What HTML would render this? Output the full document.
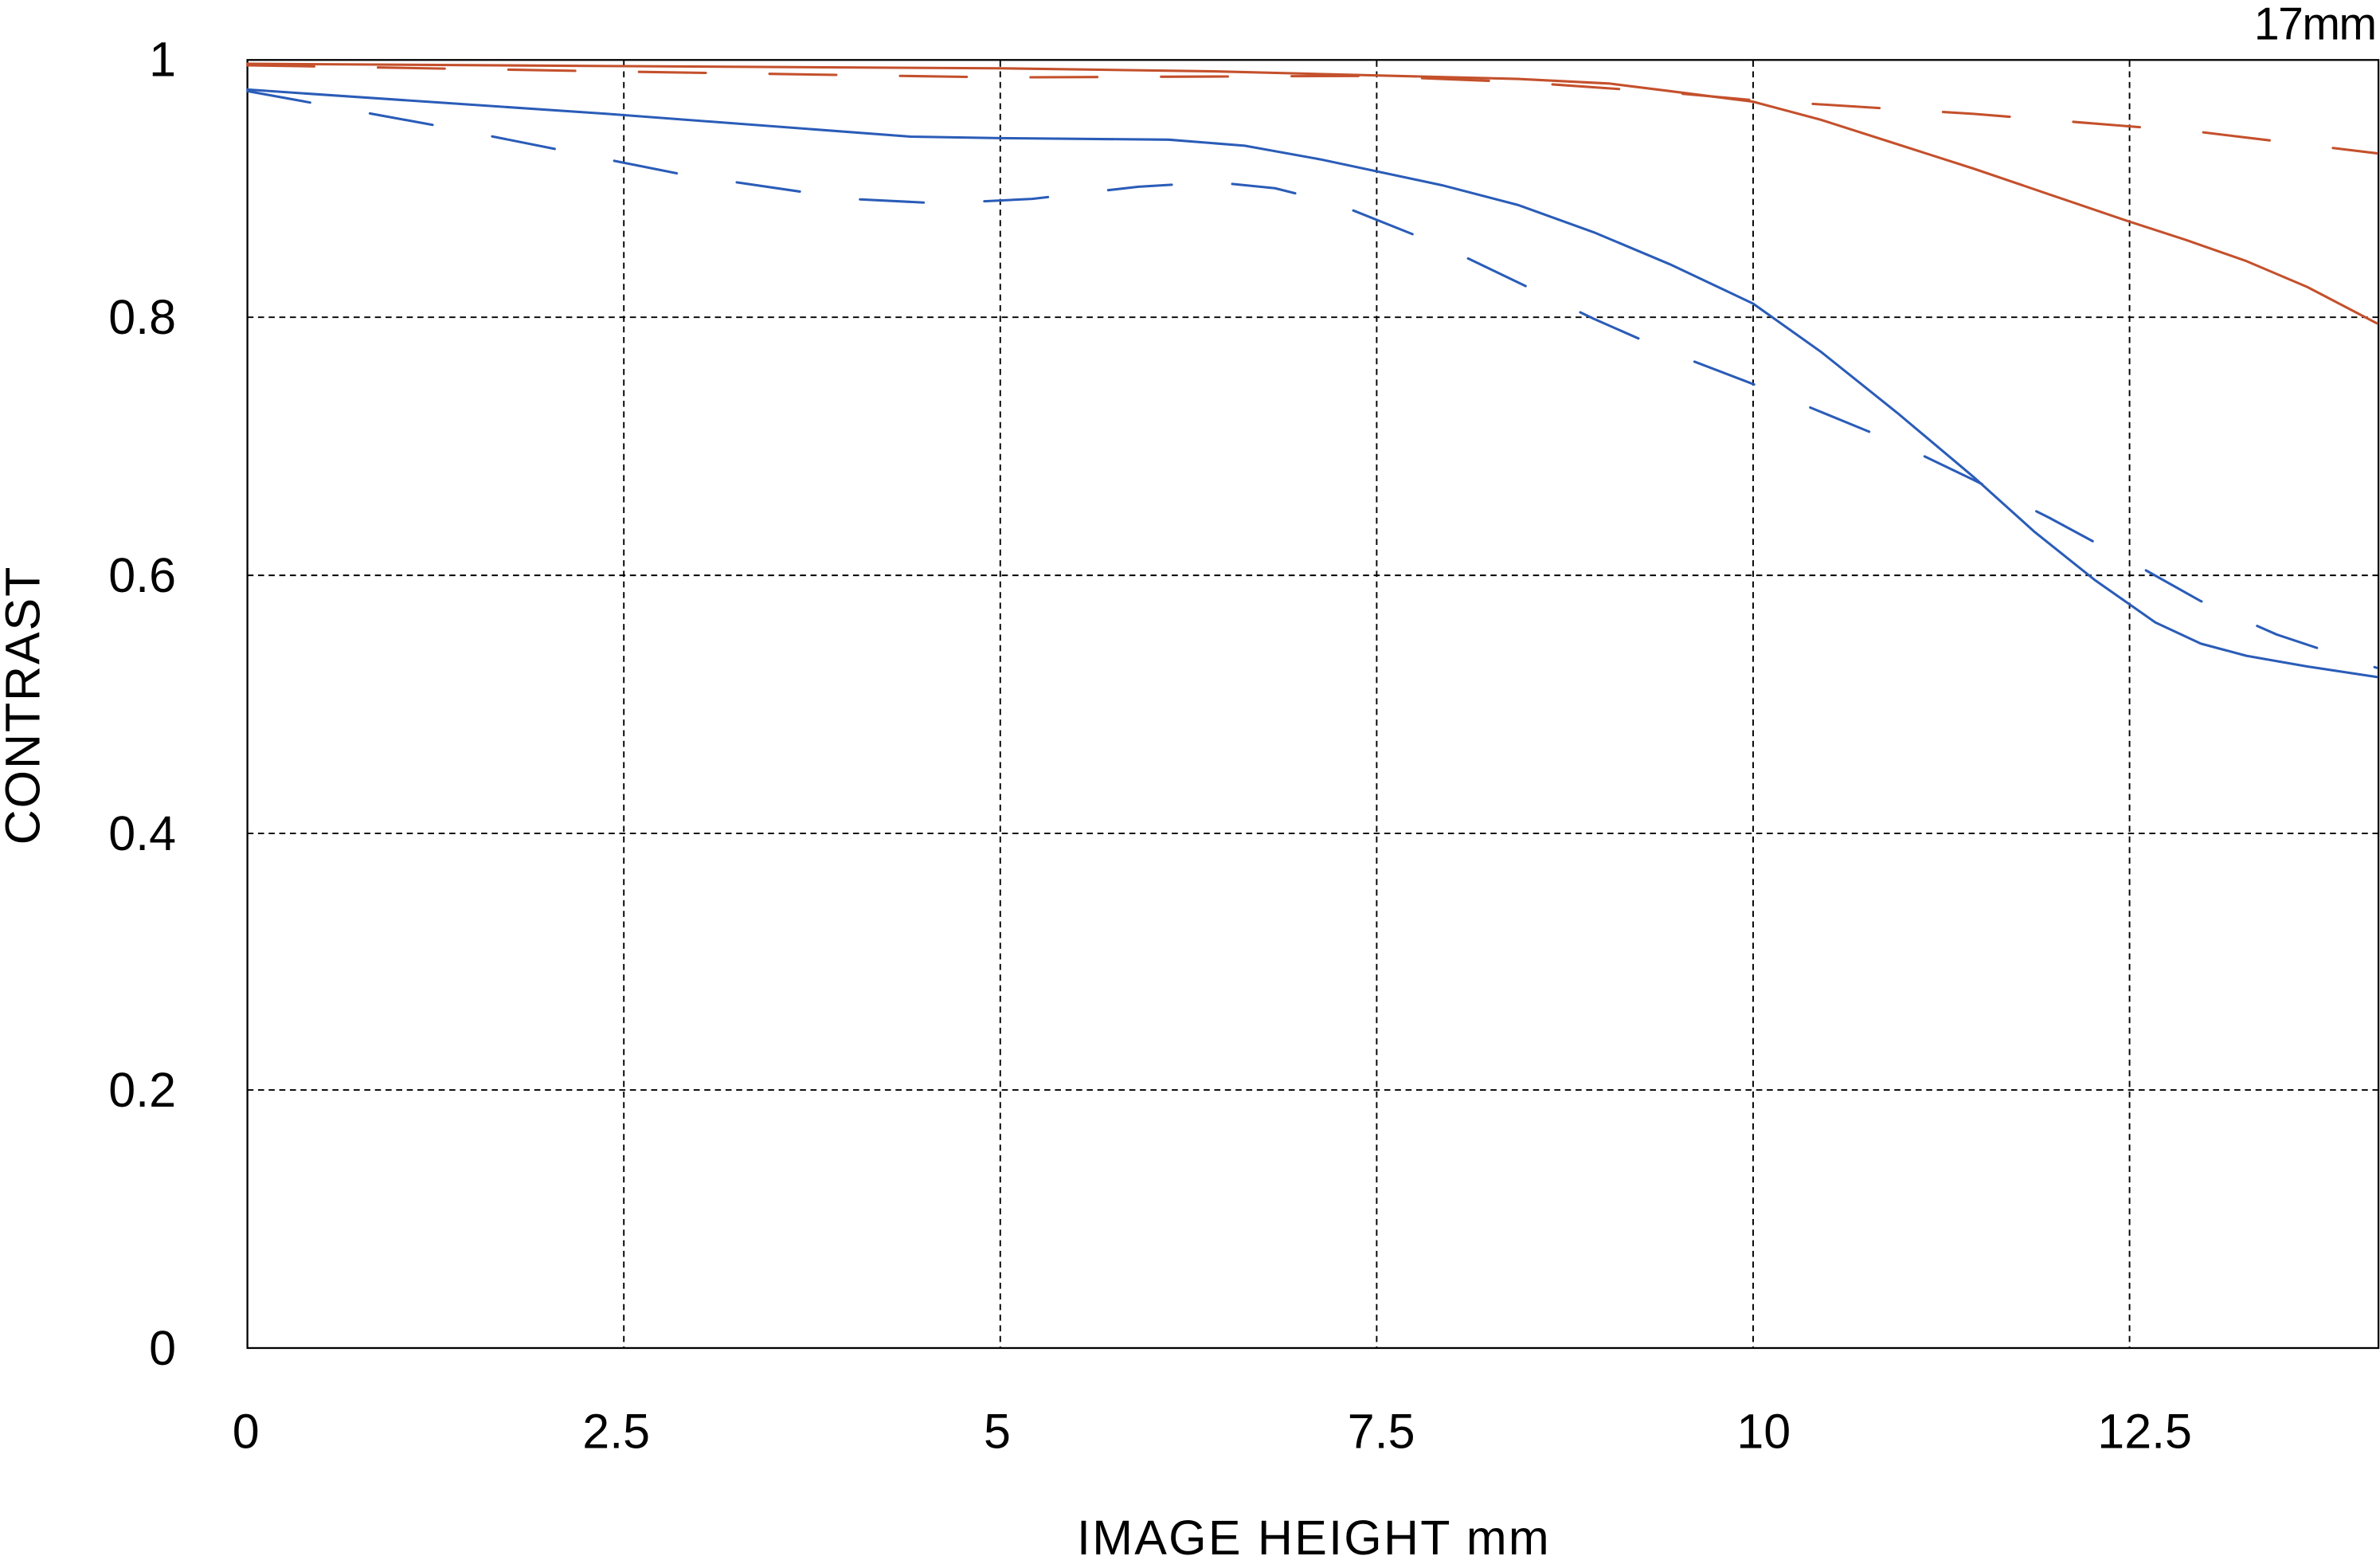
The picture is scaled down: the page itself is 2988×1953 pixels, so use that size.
<!DOCTYPE html>
<html><head><style>html,body{margin:0;padding:0;background:#fff;}svg{display:block}</style></head>
<body>
<svg width="2988" height="1953" viewBox="0 0 1568 1025" preserveAspectRatio="none" xmlns="http://www.w3.org/2000/svg" font-family="Liberation Sans, sans-serif">
<rect width="1568" height="1025" fill="#fff"/>
<g stroke="#000" stroke-width="1" stroke-dasharray="4,3" fill="none">
<line x1="411" y1="40" x2="411" y2="888"/><line x1="659" y1="40" x2="659" y2="888"/>
<line x1="907" y1="40" x2="907" y2="888"/><line x1="1155" y1="40" x2="1155" y2="888"/>
<line x1="1403" y1="40" x2="1403" y2="888"/>
<line x1="163" y1="209" x2="1567" y2="209"/><line x1="163" y1="379" x2="1567" y2="379"/>
<line x1="163" y1="549" x2="1567" y2="549"/><line x1="163" y1="718" x2="1567" y2="718"/>
</g>
<rect x="163" y="39.5" width="1404" height="848.5" fill="none" stroke="#000" stroke-width="1.2"/>
<g fill="none" stroke-width="1.6" stroke-linejoin="round" stroke-linecap="round">
<path stroke="#c4502c" d="M163,42 L400,43.5 L659,45 L800,47 L1000,52 L1060,55 L1100,60 L1155,67 L1200,79 L1250,95 L1300,111 L1350,128 L1400,145 L1440,158 L1480,172 L1520,189 L1566,213"/>
<path stroke="#c4502c" stroke-dasharray="44,42" d="M163,43 L400,47 L659,51 L900,50 L1000,54 L1100,61 L1155,66 L1300,75 L1450,87 L1566,101"/>
<path stroke="#2a5cb8" d="M163,59 L400,75 L600,90 L659,91 L770,92 L820,96 L870,105 L950,122 L1000,135 L1050,153 L1100,174 L1155,200 L1200,232 L1250,272 L1300,314 L1340,350 L1380,382 L1420,410 L1450,424 L1480,432 L1520,439 L1566,446"/>
<path stroke="#2a5cb8" stroke-dasharray="42,40" d="M163,60 L300,85 L450,115 L560,131 L620,134 L680,131 L750,123 L800,120 L840,124 L880,134 L950,162 L1050,210 L1100,232 L1155,253 L1250,292 L1300,316 L1350,341 L1400,368 L1450,396 L1500,418 L1566,440"/>
</g>
<g font-size="32" fill="#000">
<g text-anchor="end">
<text x="116" y="50">1</text><text x="116" y="220">0.8</text><text x="116" y="390">0.6</text>
<text x="116" y="560">0.4</text><text x="116" y="729">0.2</text><text x="116" y="899">0</text>
</g>
<g text-anchor="middle">
<text x="162" y="954">0</text><text x="406" y="954">2.5</text><text x="657" y="954">5</text>
<text x="910" y="954">7.5</text><text x="1162" y="954">10</text><text x="1413" y="954">12.5</text>
<text x="865" y="1024" textLength="311">IMAGE HEIGHT  mm</text>
<text transform="translate(26,465) rotate(-90)" textLength="183">CONTRAST</text>
</g>
<text x="1566" y="26" text-anchor="end" font-size="30" textLength="81">17mm</text>
</g>
</svg>
</body></html>
